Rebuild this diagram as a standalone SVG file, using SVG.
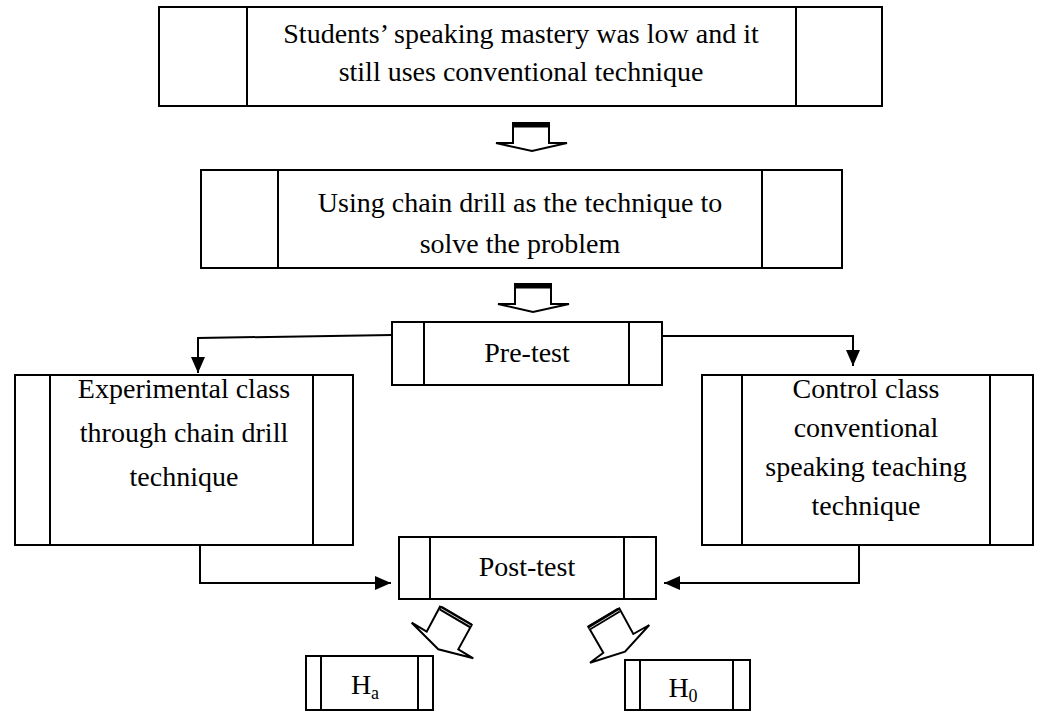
<svg xmlns="http://www.w3.org/2000/svg" width="1047" height="712" viewBox="0 0 1047 712">
<style>
.box{fill:#fff;stroke:#000;stroke-width:2}
.div{stroke:#000;stroke-width:2}
.t{font-family:"Liberation Serif","Times New Roman",serif;font-size:28px;fill:#000;text-anchor:middle}
.conn{fill:none;stroke:#000;stroke-width:2}
.blk{fill:#fff;stroke:#000;stroke-width:2;stroke-linejoin:miter}
.bar{stroke:#000;stroke-width:5}
.hl{stroke:#fff;stroke-width:0.8}
</style>
<defs>
<marker id="ah" viewBox="0 0 16 14" refX="16" refY="7" markerWidth="16" markerHeight="14" orient="auto" markerUnits="userSpaceOnUse">
<path d="M0,0 L16,7 L0,14 z" fill="#000"/>
</marker>
</defs>
<rect width="1047" height="712" fill="#fff"/>

<g id="problem">
<rect class="box" x="159" y="7" width="723" height="99"/>
<line class="div" x1="247" y1="7" x2="247" y2="106"/>
<line class="div" x1="796" y1="7" x2="796" y2="106"/>
<text class="t" x="521" y="43">Students’ speaking mastery was low and it</text>
<text class="t" x="521" y="81">still uses conventional technique</text>
</g>

<g id="solution">
<rect class="box" x="201" y="170" width="641" height="98"/>
<line class="div" x1="278" y1="170" x2="278" y2="268"/>
<line class="div" x1="762" y1="170" x2="762" y2="268"/>
<text class="t" x="520" y="212">Using chain drill as the technique to</text>
<text class="t" x="520" y="253">solve the problem</text>
</g>

<g id="pretest">
<rect class="box" x="392" y="322" width="270" height="63"/>
<line class="div" x1="424" y1="322" x2="424" y2="385"/>
<line class="div" x1="629" y1="322" x2="629" y2="385"/>
<text class="t" x="527" y="362">Pre-test</text>
</g>

<g id="experimental">
<rect class="box" x="15" y="375" width="338" height="170"/>
<line class="div" x1="50" y1="375" x2="50" y2="545"/>
<line class="div" x1="313" y1="375" x2="313" y2="545"/>
<text class="t" x="184" y="398">Experimental class</text>
<text class="t" x="184" y="442">through chain drill</text>
<text class="t" x="184" y="486">technique</text>
</g>

<g id="control">
<rect class="box" x="702" y="375" width="331" height="170"/>
<line class="div" x1="742" y1="375" x2="742" y2="545"/>
<line class="div" x1="990" y1="375" x2="990" y2="545"/>
<text class="t" x="866" y="398">Control class</text>
<text class="t" x="866" y="437">conventional</text>
<text class="t" x="866" y="476">speaking teaching</text>
<text class="t" x="866" y="515">technique</text>
</g>

<g id="posttest">
<rect class="box" x="399" y="537" width="257" height="62"/>
<line class="div" x1="430" y1="537" x2="430" y2="599"/>
<line class="div" x1="624" y1="537" x2="624" y2="599"/>
<text class="t" x="527" y="576">Post-test</text>
</g>

<g id="ha">
<rect class="box" x="306" y="656" width="127" height="54"/>
<line class="div" x1="321" y1="656" x2="321" y2="710"/>
<line class="div" x1="418" y1="656" x2="418" y2="710"/>
<text class="t" x="365" y="694">H<tspan font-size="18" dy="5">a</tspan></text>
</g>

<g id="h0">
<rect class="box" x="625" y="660" width="125" height="50"/>
<line class="div" x1="640" y1="660" x2="640" y2="710"/>
<line class="div" x1="733" y1="660" x2="733" y2="710"/>
<text class="t" x="683" y="697">H<tspan font-size="18" dy="5">0</tspan></text>
</g>

<g id="connectors">
<polygon class="blk" points="513,123 549,123 549,143 567,143 532,151 496,143 513,143"/>
<line class="bar" x1="513" y1="125" x2="549" y2="125"/>
<polygon class="blk" points="515,284 551,284 551,304 569,304 533,312 498,304 515,304"/>
<line class="bar" x1="515" y1="286" x2="551" y2="286"/>
<polyline class="conn" points="392,335 198,338 198,373" marker-end="url(#ah)"/>
<polyline class="conn" points="662,336 853,336 853,366" marker-end="url(#ah)"/>
<polyline class="conn" points="200,545 200,583 391,583" marker-end="url(#ah)"/>
<polyline class="conn" points="859,545 859,583 664,583" marker-end="url(#ah)"/>
<polygon class="blk" points="440,606.7 471.7,625 458.3,649.3 473.3,658.3 438.3,649.3 411.7,622.7 426.7,631.7"/>
<line class="bar" x1="440.5" y1="608" x2="471" y2="626"/>
<line class="hl" x1="441" y1="608.6" x2="470.6" y2="625.8"/>
<polygon class="blk" points="588.3,626.7 603.3,652.7 590,662.7 625,651.7 649.3,625 633.3,634 619.3,608.3"/>
<line class="bar" x1="589" y1="628" x2="619" y2="610"/>
<line class="hl" x1="589.4" y1="628.4" x2="618.8" y2="610.6"/>
</g>
</svg>
